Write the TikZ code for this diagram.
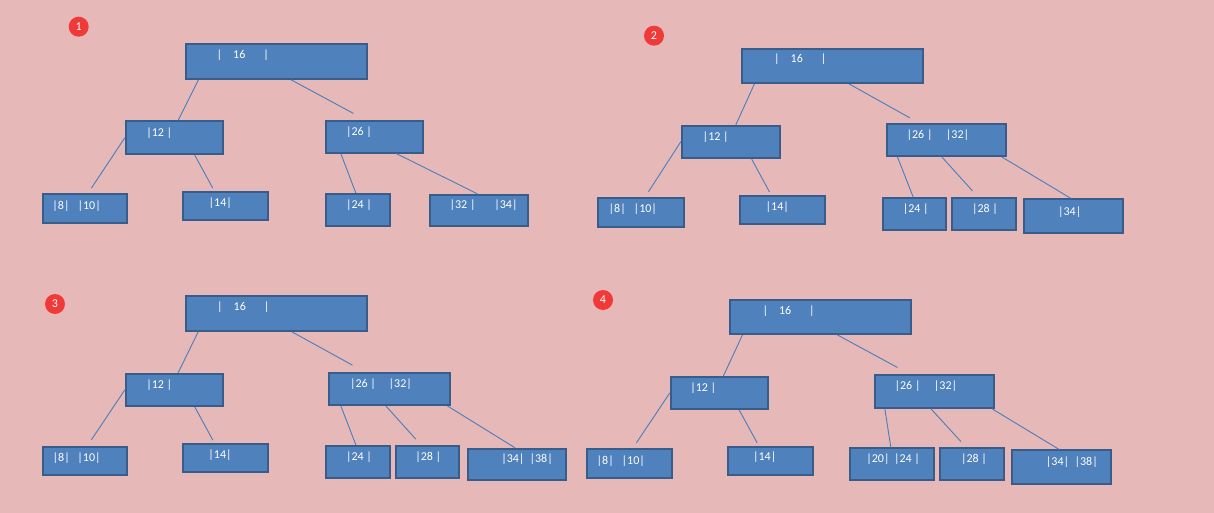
\documentclass[tikz,border=0pt]{standalone}
\usepackage{fontspec}
\setmainfont{Carlito}
\usepackage{tikz}

\definecolor{pinkbg}  {HTML}{E6B8B7}
\definecolor{keyfill} {HTML}{4F81BD}
\definecolor{keyline} {HTML}{385D8A}
\definecolor{linkcol} {HTML}{4A7EBB}
\definecolor{badgered}{HTML}{F03A3A}

\tikzset{
  keybox/.style 2 args={
    rectangle, draw=keyline, fill=keyfill, line width=1.8pt,
    minimum width=#1pt, minimum height=#2pt, inner sep=0pt
  },
  keytxt/.style={
    text=white, font=\fontsize{12}{14}\selectfont, inner sep=0pt
  },
  panelnum/.style={
    circle, fill=badgered, text=white, minimum size=20pt,
    inner sep=0pt, font=\fontsize{12}{14}\selectfont
  },
  treeline/.style={line width=0.9pt, color=linkcol}
}

\begin{document}
\begin{tikzpicture}[x=1pt, y=-1pt]

  \fill[pinkbg] (0,0) rectangle (1214,513);
  \useasboundingbox (0,0) rectangle (1214,513);

  % ---- tree 1
  \node[panelnum] (b1) at (78.7,26.7) {1};
  \node[keybox={181}{35}]   (r1)  at (276.3,61.3) {};
  \node[keybox={97.6}{33}]  (a1)  at (174.5,137.8) {};
  \node[keybox={97.6}{32}]  (c1)  at (374.5,136.7) {};
  \node[keybox={84.6}{29}]  (l1a) at (85,208.8) {};
  \node[keybox={85.6}{28.3}](l1b) at (225.5,205.9) {};
  \node[keybox={64.3}{32}]  (l1c) at (357.9,210) {};
  \node[keybox={98.6}{31.3}](l1d) at (479,210.4) {};

  \node[keytxt, anchor=west] (r1t)  at (216.5,55) {|\hspace{11pt}16\hspace{18pt}|};
  \node[keytxt] (a1t)  at (159.3,133.3) {|12 |};
  \node[keytxt] (c1t)  at (359,132.3) {|26 |};
  \node[keytxt, anchor=west] (l1at) at (52.2,206) {|8|\hspace{8.1pt}|10|};
  \node[keytxt] (l1bt) at (220.3,203.3) {|14|};
  \node[keytxt] (l1ct) at (359,205.3) {|24 |};
  \node[keytxt, anchor=west] (l1dt) at (449.4,205.3) {|32 |\hspace{18.8pt}|34|};

  % ---- tree 2
  \node[panelnum] (b2) at (654,35.7) {2};
  \node[keybox={181.6}{34.3}](r2)  at (832.5,65.9) {};
  \node[keybox={98.6}{32}]   (a2)  at (731,141.7) {};
  \node[keybox={119.3}{31.7}](c2)  at (946.4,140.2) {};
  \node[keybox={86}{28.7}]   (l2a) at (641.3,212.7) {};
  \node[keybox={85.6}{28}]   (l2b) at (782.5,209.7) {};
  \node[keybox={63.6}{32.3}] (l2c) at (914.5,213.9) {};
  \node[keybox={64.6}{32.3}] (l2d) at (984,213.9) {};
  \node[keybox={99.3}{33.4}] (l2e) at (1073.4,216) {};

  \node[keytxt, anchor=west] (r2t)  at (774,59) {|\hspace{11pt}16\hspace{18pt}|};
  \node[keytxt] (a2t)  at (715.7,137.3) {|12 |};
  \node[keytxt, anchor=west] (c2t)  at (906.4,135.3) {|26 |\hspace{13.4pt}|32|};
  \node[keytxt, anchor=west] (l2at) at (608.5,209.3) {|8|\hspace{7.9pt}|10|};
  \node[keytxt] (l2bt) at (777.3,206.7) {|14|};
  \node[keytxt] (l2ct) at (915.7,208.7) {|24 |};
  \node[keytxt] (l2dt) at (985,208.7) {|28 |};
  \node[keytxt] (l2et) at (1069.7,211.7) {|34|};

  % ---- tree 3
  \node[panelnum] (b3) at (55,304) {3};
  \node[keybox={181.6}{35.3}](r3)  at (276.5,313.4) {};
  \node[keybox={97.6}{32.3}] (a3)  at (174.5,389.9) {};
  \node[keybox={120.7}{32.3}](c3)  at (389.7,388.9) {};
  \node[keybox={84.6}{28.6}] (l3a) at (85,461) {};
  \node[keybox={85.6}{28.6}] (l3b) at (225.5,458) {};
  \node[keybox={64.3}{32.3}] (l3c) at (357.9,461.9) {};
  \node[keybox={63.6}{32.3}] (l3d) at (427.5,461.9) {};
  \node[keybox={98.6}{31.3}] (l3e) at (517,464.4) {};

  \node[keytxt, anchor=west] (r3t)  at (217,307.3) {|\hspace{11pt}16\hspace{18pt}|};
  \node[keytxt] (a3t)  at (159.3,385.3) {|12 |};
  \node[keytxt, anchor=west] (c3t)  at (349.8,384.3) {|26 |\hspace{12.8pt}|32|};
  \node[keytxt, anchor=west] (l3at) at (52.5,458.3) {|8|\hspace{7.6pt}|10|};
  \node[keytxt] (l3bt) at (220,455.3) {|14|};
  \node[keytxt] (l3ct) at (359,457.3) {|24 |};
  \node[keytxt] (l3dt) at (428.3,456.7) {|28 |};
  \node[keytxt, anchor=west] (l3et) at (501.1,459.3) {|34|\hspace{5.1pt}|38|};

  % ---- tree 4
  \node[panelnum] (b4) at (603,300) {4};
  \node[keybox={181.3}{34.3}](r4)  at (820.4,316.9) {};
  \node[keybox={97.3}{32.3}] (a4)  at (719.4,392.9) {};
  \node[keybox={119.6}{32.7}](c4)  at (934.5,391.4) {};
  \node[keybox={85.6}{28.7}] (l4a) at (629.5,463.7) {};
  \node[keybox={85.6}{28.6}] (l4b) at (770.5,461) {};
  \node[keybox={83.7}{31.7}] (l4c) at (892.2,464.2) {};
  \node[keybox={64.6}{31.7}] (l4d) at (972,464.2) {};
  \node[keybox={99.3}{33.7}] (l4e) at (1061.4,467.2) {};

  \node[keytxt, anchor=west] (r4t)  at (762.3,311) {|\hspace{11pt}16\hspace{18pt}|};
  \node[keytxt] (a4t)  at (703.3,388.3) {|12 |};
  \node[keytxt, anchor=west] (c4t)  at (894.4,386.3) {|26 |\hspace{13.4pt}|32|};
  \node[keytxt, anchor=west] (l4at) at (596.5,461) {|8|\hspace{7.9pt}|10|};
  \node[keytxt] (l4bt) at (764.7,457.3) {|14|};
  \node[keytxt, anchor=west] (l4ct) at (866.1,459.3) {|20|\hspace{4.5pt}|24 |};
  \node[keytxt] (l4dt) at (974,459.3) {|28 |};
  \node[keytxt, anchor=west] (l4et) at (1045.7,462) {|34|\hspace{5.5pt}|38|};

  % parent/shift -- child/shift/lift
  \foreach \a/\p/\x/\b/\y/\u in {
      r1/south west/13.6/a1/53.3/0,   r1/south west/106/c1/28.6/6.4,
      a1/west/0/l1a/49.6/5.3,         a1/south west/70/l1b/31/2.7,
      c1/south west/16/l1c/31/0,      c1/south west/71.6/l1d/48.6/0,
      r2/south west/13.6/a2/55/0,     r2/south west/108.3/c2/24/5.6,
      a2/west/0/l2a/51/5.6,           a2/south west/70.6/l2b/30.6/3,
      c2/south west/11.6/l2c/31.3/0,  c2/south west/56/l2d/21.6/6,
      c2/south west/116/l2e/48/0,
      r3/south west/13.3/a3/53.3/0,   r3/south west/107.3/c3/24/6.7,
      a3/west/0/l3a/49.6/6,           a3/south west/70/l3b/31/2.7,
      c3/south west/12.4/l3c/31/0,    c3/south west/57.4/l3d/21/5.7,
      c3/south west/119/l3e/48.3/0,
      r4/south west/13.6/a4/53.6/0,   r4/south west/108.6/c4/23.6/6.7,
      a4/west/0/l4a/50.6/5.6,         a4/south west/69.3/l4b/30.3/3,
      c4/south west/11/l4c/41.4/0,    c4/south west/57/l4d/22/6,
      c4/south west/118/l4e/48.3/0}{
    \draw[treeline] ([xshift=\x pt]\a.\p) -- ([xshift=\y pt, yshift=\u pt]\b.north west);
  }

\end{tikzpicture}
\end{document}
